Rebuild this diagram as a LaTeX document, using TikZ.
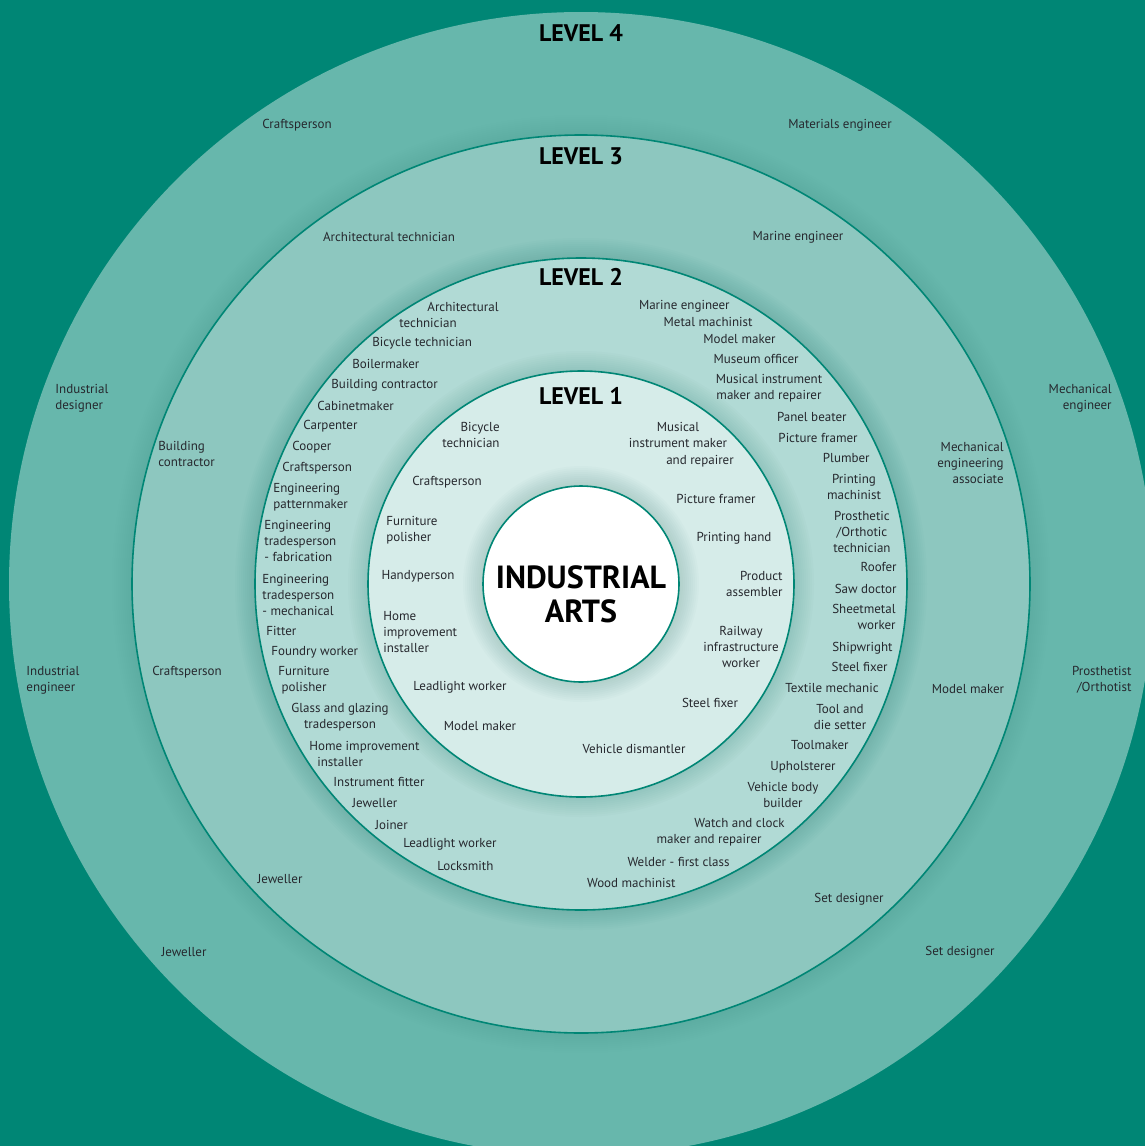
\documentclass[tikz,border=0pt]{standalone}
\usepackage{fontspec}
\setmainfont{PT Sans}
\definecolor{tealbg}{RGB}{0,134,117}
\definecolor{tealfour}{RGB}{103,183,172}
\definecolor{tealthree}{RGB}{141,199,191}
\definecolor{tealtwo}{RGB}{177,218,213}
\definecolor{tealone}{RGB}{214,236,233}
\definecolor{jobgrey}{RGB}{38,40,46}
\definecolor{shadowteal}{RGB}{0,90,80}
\newcommand{\ringshadow}[2]{
    \foreach \s in {1,...,10}
        \fill[shadowteal, opacity=#2] (ctr) circle[radius={#1+2*\s}];
}

\begin{document}
\begin{tikzpicture}[x=0.5pt, y=-0.5pt,
    job/.style={font=\fontsize{6.5}{7.8}\selectfont, text=jobgrey, inner sep=0pt},
    levelname/.style={font=\bfseries\fontsize{12}{14}\selectfont, inner sep=0pt},
    ringline/.style={draw=tealbg, line width=0.8pt}]
    \useasboundingbox (0,0) rectangle (1145,1146);
    \clip (0,0) rectangle (1145,1146);
    \fill[tealbg] (0,0) rectangle (1145,1146);
    \coordinate (ctr) at (581,584);
    % the rings, from the outside in
    \fill[tealfour] (ctr) circle[radius=572];
    \ringshadow{449}{0.008}
    \filldraw[fill=tealthree, ringline] (ctr) circle[radius=449];
    \ringshadow{326}{0.015}
    \filldraw[fill=tealtwo, ringline] (ctr) circle[radius=326];
    \ringshadow{213}{0.015}
    \filldraw[fill=tealone, ringline] (ctr) circle[radius=213];
    \ringshadow{98}{0.015}
    \filldraw[fill=white, ringline] (ctr) circle[radius=98];

    \node[levelname] (lvlfour) at (581,33) {LEVEL 4};
    \node[levelname] (lvlthree) at (581,156) {LEVEL 3};
    \node[levelname] (lvltwo) at (581,277) {LEVEL 2};
    \node[levelname] (lvlone) at (581,396) {LEVEL 1};
    \node[font=\bfseries\fontsize{16}{17}\selectfont, align=center, inner sep=0pt] (arts) at (581,594) {INDUSTRIAL\\ARTS};

    % level 4
    \node[job] (four-craft) at (297,125) {Craftsperson};
    \node[job] (four-mater) at (840,125) {Materials engineer};
    \node[job, align=left, anchor=west] (four-inddes) at (55,398) {Industrial\\designer};
    \node[job, align=right, anchor=east] (four-mech) at (1112,398) {Mechanical\\engineer};
    \node[job, align=left, anchor=west] (four-indeng) at (26,680) {Industrial\\engineer};
    \node[job, align=right, anchor=east] (four-prost) at (1132,680) {Prosthetist\\/Orthotist};
    \node[job] (four-jewel) at (184,952) {Jeweller};
    \node[job] (four-set) at (960,952) {Set designer};

    % level 3
    \node[job] (three-arch) at (389,237) {Architectural technician};
    \node[job] (three-marine) at (798,237) {Marine engineer};
    \node[job, align=left, anchor=west] (three-build) at (158,454) {Building\\contractor};
    \node[job] (three-craft) at (187,672) {Craftsperson};
    \node[job, align=right, anchor=east] (three-mech) at (1004,463) {Mechanical\\engineering\\associate};
    \node[job] (three-model) at (968,689) {Model maker};
    \node[job] (three-jewel) at (280,879) {Jeweller};
    \node[job] (three-set) at (849,899) {Set designer};

    % level 2, left side
    \node[job, anchor=west] (two-arch) at (427,307) {Architectural};
    \node[job, anchor=west] (two-archb) at (399,323) {technician};
    \node[job, anchor=west] (two-bike) at (372,343) {Bicycle technician};
    \node[job, anchor=west] (two-boil) at (352,364) {Boilermaker};
    \node[job, anchor=west] (two-build) at (331,385) {Building contractor};
    \node[job, anchor=west] (two-cabinet) at (317,406) {Cabinetmaker};
    \node[job, anchor=west] (two-carp) at (303,426) {Carpenter};
    \node[job, anchor=west] (two-cooper) at (292,447) {Cooper};
    \node[job, anchor=west] (two-craft) at (282,468) {Craftsperson};
    \node[job, anchor=west, align=left] (two-pattern) at (273,497) {Engineering\\patternmaker};
    \node[job, anchor=west, align=left] (two-fab) at (264,541) {Engineering\\tradesperson\\- fabrication};
    \node[job, anchor=west, align=left] (two-mechn) at (262,595) {Engineering\\tradesperson\\- mechanical};
    \node[job, anchor=west] (two-fitter) at (266,631) {Fitter};
    \node[job, anchor=west] (two-foundry) at (271,652) {Foundry worker};
    \node[job, align=center] (two-furn) at (304,680) {Furniture\\polisher};
    \node[job, align=center] (two-glass) at (340,717) {Glass and glazing\\tradesperson};
    \node[job, anchor=west, align=left] (two-home) at (309,754) {Home improvement\\\hspace*{4pt}installer};
    \node[job, anchor=west] (two-instr) at (333,782) {Instrument fitter};
    \node[job, anchor=west] (two-jewel) at (352,803) {Jeweller};
    \node[job, anchor=west] (two-joiner) at (375,825) {Joiner};
    \node[job, anchor=west] (two-lead) at (403,844) {Leadlight worker};
    \node[job, anchor=west] (two-lock) at (437,866) {Locksmith};

    % level 2, right side
    \node[job, anchor=east] (two-marine) at (730,306) {Marine engineer};
    \node[job, anchor=east] (two-metal) at (753,322) {Metal machinist};
    \node[job, anchor=east] (two-model) at (776,339) {Model maker};
    \node[job, anchor=east] (two-museum) at (799,359) {Museum officer};
    \node[job, align=center] (two-music) at (769,388) {Musical instrument\\maker and repairer};
    \node[job, anchor=east] (two-panel) at (847,417) {Panel beater};
    \node[job, anchor=east] (two-picture) at (858,438) {Picture framer};
    \node[job, anchor=east] (two-plumb) at (870,458) {Plumber};
    \node[job, align=center] (two-print) at (854,487) {Printing\\machinist};
    \node[job, align=center] (two-prost) at (862,532) {Prosthetic\\/Orthotic\\technician};
    \node[job, anchor=east] (two-roof) at (897,567) {Roofer};
    \node[job, anchor=east] (two-saw) at (897,589) {Saw doctor};
    \node[job, anchor=east, align=right] (two-sheet) at (896,617) {Sheetmetal\\worker};
    \node[job, anchor=east] (two-ship) at (893,648) {Shipwright};
    \node[job, anchor=east] (two-steel) at (888,667) {Steel fixer};
    \node[job, anchor=east] (two-textile) at (879,688) {Textile mechanic};
    \node[job, align=center] (two-tool) at (840,717) {Tool and\\die setter};
    \node[job, anchor=east] (two-toolmk) at (849,745) {Toolmaker};
    \node[job, anchor=east] (two-uphol) at (836,767) {Upholsterer};
    \node[job, align=center] (two-vehicle) at (783,795) {Vehicle body\\builder};
    \node[job, anchor=east] (two-watch) at (785,823) {Watch and clock};
    \node[job, anchor=east] (two-watchb) at (762,840) {maker and repairer};
    \node[job, anchor=east] (two-weld) at (730,862) {Welder - first class};
    \node[job, anchor=east] (two-wood) at (676,883) {Wood machinist};

    % level 1
    \node[job, anchor=east, align=right] (one-bike) at (500,435) {Bicycle\\technician};
    \node[job] (one-craft) at (447,482) {Craftsperson};
    \node[job, anchor=west, align=left] (one-furn) at (386,530) {Furniture\\polisher};
    \node[job] (one-handy) at (418,576) {Handyperson};
    \node[job, anchor=west, align=left] (one-home) at (383,632) {Home\\improvement\\installer};
    \node[job] (one-lead) at (460,687) {Leadlight worker};
    \node[job] (one-model) at (480,726) {Model maker};
    \node[job, align=center] (one-music) at (678,435) {Musical\\instrument maker};
    \node[job] (one-musicb) at (700,461) {and repairer};
    \node[job] (one-picture) at (716,499) {Picture framer};
    \node[job] (one-print) at (734,538) {Printing hand};
    \node[job, anchor=east, align=right] (one-product) at (783,584) {Product\\assembler};
    \node[job, align=center] (one-rail) at (741,647) {Railway\\infrastructure\\worker};
    \node[job] (one-steel) at (710,703) {Steel fixer};
    \node[job] (one-vehicle) at (634,749) {Vehicle dismantler};
\end{tikzpicture}
\end{document}
